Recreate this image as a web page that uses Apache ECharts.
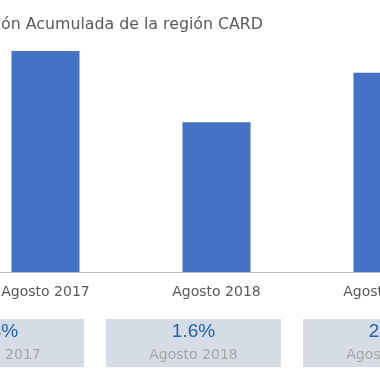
<!DOCTYPE html>
<html>
<head>
<meta charset="utf-8">
<script src="https://cdn.jsdelivr.net/npm/echarts@6/dist/echarts.min.js"></script>
<style>html,body{margin:0;padding:0;background:#fff}#c{width:380px;height:380px}</style>
</head>
<body>
<div id="c"></div>
<script>
var titleText = "Inflación Acumulada de la región CARD";
var categories = ["Agosto 2017", "Agosto 2018", "Agosto 2019"];
var values = [2.36, 1.6, 2.13];

var chart = echarts.init(document.getElementById('c'), null, {renderer: 'canvas'});
chart.setOption({
  animation: false,
  backgroundColor: '#ffffff',
  title: {
    text: titleText,
    right: 112,
    top: 12,
    textStyle: {fontFamily: 'DejaVu Sans', fontSize: 15.8, fontWeight: 'normal', color: '#595959'}
  },
  grid: [
    {left: -40, width: 513, top: 38, bottom: 108, containLabel: false, outerBoundsMode: 'none'},
    {left: -102, width: 591, top: 319, height: 48, containLabel: false, outerBoundsMode: 'none'}
  ],
  xAxis: [
    {
      type: 'category', gridIndex: 0, data: categories,
      axisLine: {lineStyle: {color: '#bfbfbf', width: 1}},
      axisTick: {show: false},
      axisLabel: {margin: 13, fontFamily: 'DejaVu Sans', fontSize: 14, color: '#595959', interval: 0}
    },
    {
      type: 'category', gridIndex: 1, data: categories,
      axisLine: {show: false}, axisTick: {show: false}, axisLabel: {show: false}
    }
  ],
  yAxis: [
    {type: 'value', gridIndex: 0, min: 0, max: 2.5, show: false, splitLine: {show: false}},
    {type: 'value', gridIndex: 1, min: 0, max: 1, show: false, splitLine: {show: false}}
  ],
  series: [
    {
      type: 'bar', xAxisIndex: 0, yAxisIndex: 0,
      data: values, barWidth: 68,
      itemStyle: {color: '#4472c4'}
    },
    {
      type: 'bar', xAxisIndex: 1, yAxisIndex: 1,
      data: categories.map(function () { return 1; }),
      barWidth: 175,
      itemStyle: {color: '#d6dce5'},
      label: {
        show: true, position: 'inside',
        formatter: function (p) {
          return '{v|' + values[p.dataIndex].toFixed(1) + '%}\n{c|' + categories[p.dataIndex] + '}';
        },
        rich: {
          v: {fontFamily: 'Liberation Sans', fontSize: 19, color: '#2262b3', lineHeight: 24, align: 'center'},
          c: {fontFamily: 'DejaVu Sans', fontSize: 14, color: '#a6a6a6', lineHeight: 22, align: 'center'}
        }
      }
    }
  ]
});
</script>
</body>
</html>
